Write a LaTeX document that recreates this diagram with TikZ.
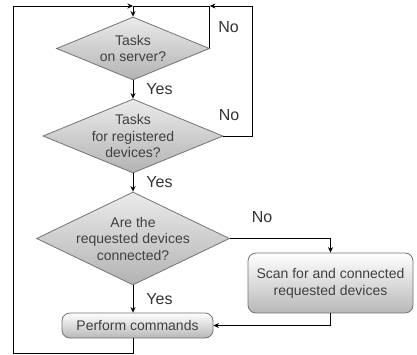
\documentclass[tikz,border=0pt]{standalone}
\usepackage{fontspec}
\setmainfont{Liberation Sans}
\usepackage{tikz}
\usetikzlibrary{arrows.meta, positioning, shapes.geometric}

\begin{document}
\begin{tikzpicture}[x=1pt, y=1pt, >={Stealth[length=5.5pt, width=5pt]}, line width=0.95pt]
        % Styles for the decisions, the boxes and the labels
        \tikzstyle{decision} = [draw=black!55, diamond, aspect=2, inner sep=0pt, line width=0.8pt, top color=black!8, bottom color=black!30]
        \tikzstyle{process} = [draw=black!55, rectangle, rounded corners=8pt, align=center, line width=0.8pt, top color=white, bottom color=black!28, text=black!75, font=\fontsize{14}{17}\selectfont]
        \tikzstyle{question} = [align=center, text=black!75, font=\fontsize{14}{16.5}\selectfont]
        \tikzstyle{answer} = [inner sep=0pt, text=black!80, font=\fontsize{16}{19}\selectfont]

        \useasboundingbox (0,0) rectangle (417,354);

        % Nodes
        \node at (133,305.5) [decision, minimum width=153pt, minimum height=63pt, label={[question]center:Tasks\\on server?}] (tasksServer) {};
        \node [decision, on grid, below=87.5pt of tasksServer, minimum width=180pt, minimum height=74pt, label={[question]center:Tasks\\for registered\\devices?}] (tasksDevices) {};
        \node [decision, on grid, below=102.5pt of tasksDevices, minimum width=193pt, minimum height=93pt, label={[question]center:Are the\\requested devices\\connected?}] (devicesConnected) {};
        \node [process, on grid, below right=87pt and 4.5pt of devicesConnected, minimum width=151pt, minimum height=25pt] (perform) {Perform commands};
        \node [process, on grid, below right=44.5pt and 197.5pt of devicesConnected, minimum width=165pt, minimum height=60pt] (scan) {Scan for and connected\\requested devices};
        \node [coordinate, on grid, above=42.5pt of tasksServer] (merge) {};
        \node [coordinate, on grid, right=119pt of tasksDevices] (noRight) {};
        \node [coordinate, on grid, below left=114.5pt and 120pt of devicesConnected] (loopLeft) {};

        % Lines
        \draw [->] (merge) -- (tasksServer.north);
        \draw [->] (tasksServer.south) -- node[answer, right=13pt]{Yes} (tasksDevices.north);
        \draw [->] (tasksDevices.south) -- node[answer, right=13pt]{Yes} (devicesConnected.north);
        \draw [->] (devicesConnected.south) -- node[answer, right=13pt]{Yes} (devicesConnected.south |- perform.north);
        \draw [-] (tasksServer.east) |- node[answer, pos=0.25, right=8pt]{No} (merge);
        \draw [->] (tasksDevices.east) -- node[answer, pos=0.2, above=15pt]{No} (noRight) |- (tasksServer.east |- merge);
        \draw [->] (devicesConnected.east) -| node[answer, pos=0.16, above=15pt]{No} (scan.north);
        \draw [->] (scan.south) |- (perform.east);
        \draw [->] (devicesConnected.south |- perform.south) |- (loopLeft) |- (merge);

      \end{tikzpicture}
\end{document}
